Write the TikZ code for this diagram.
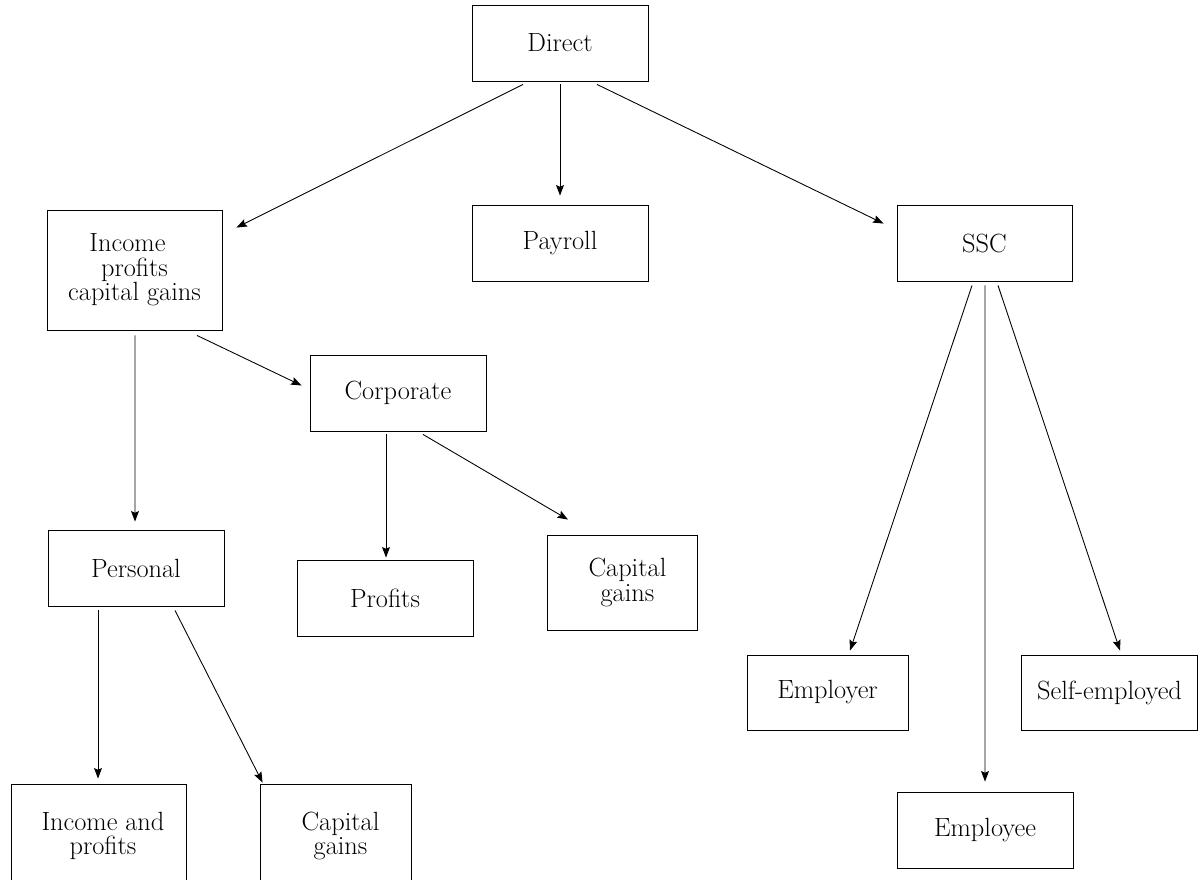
\documentclass[tikz,border=0pt]{standalone}
\usetikzlibrary{arrows.meta,calc}
\begin{document}
\begin{tikzpicture}[x=0.02cm,y=-0.02cm,
  bx/.style 2 args={draw,line width=0.5pt,align=center,inner sep=0pt,
    font=\fontsize{15}{13.9}\selectfont,
    minimum width=#1*0.02cm,minimum height=#2*0.02cm},
  conn/.style={-{Stealth[length=6pt,width=4.5pt,inset=1pt]},line width=0.5pt}]
\useasboundingbox (0,0) rectangle (1202,879);
\node[bx={176}{76}] (direct) at (560,43) {Direct};
\node[bx={175}{120}] (income) at (134.5,270) {Income\hspace*{8pt}\\profits\hspace*{8pt}\\capital gains};
\node[bx={176}{76}] (payroll) at (560,243) {Payroll};
\node[bx={175}{76}] (ssc) at (984.5,243) {SSC};
\node[bx={176}{76}] (corp) at (398,393) {Corporate};
\node[bx={176}{76}] (personal) at (136,568) {Personal};
\node[bx={176}{76}] (profits) at (385,598) {Profits};
\node[bx={150}{95}] (cgcorp) at (622,582.5) {\hspace*{6.2pt}Capital\\\hspace*{6.2pt}gains};
\node[bx={161}{75}] (employer) at (827.5,692.5) {Employer};
\node[bx={176}{75}] (self) at (1109.5,692.5) {Self-employed};
\node[bx={176}{76}] (employee) at (985,830) {Employee};
\node[bx={175}{104}] (incprof) at (98.5,836) {\hspace*{5.1pt}Income and\\\hspace*{5.1pt}profits};
\node[bx={151}{104}] (cgpers) at (335.5,836) {\hspace*{5.7pt}Capital\\\hspace*{5.7pt}gains};

\draw[conn] ($(direct.south)+(-37,3)$) -- ($(income.north east)+(14,18)$);
\draw[conn] ($(direct.south)+(0,3)$) -- ($(payroll.north)+(0,-9)$);
\draw[conn] ($(direct.south)+(37,3)$) -- ($(ssc.north west)+(-13,19)$);
\draw[conn] ($(income.south)+(0.5,5)$) -- ($(personal.north)+(-1,-8)$);
\draw[conn] ($(income.south)+(62.5,5)$) -- ($(corp.west)+(-8,-7.5)$);
\draw[conn] ($(corp.south)+(-12,3)$) -- ($(profits.north)+(1,-2)$);
\draw[conn] ($(corp.south)+(25,3)$) -- ($(cgcorp.north)+(-54,-15)$);
\draw[conn] ($(personal.south)+(-38,4)$) -- ($(incprof.north)+(-0.5,-5)$);
\draw[conn] ($(personal.south)+(39,4)$) -- ($(cgpers.north west)+(3,-1)$);
\draw[conn] ($(ssc.south)+(-12.5,4)$) -- ($(employer.north)+(22.5,-4)$);
\draw[conn] ($(ssc.south)+(0.5,4)$) -- ($(employee.north)+(0,-10)$);
\draw[conn] ($(ssc.south)+(13.5,4)$) -- ($(self.north)+(10.5,-4)$);
\end{tikzpicture}
\end{document}
